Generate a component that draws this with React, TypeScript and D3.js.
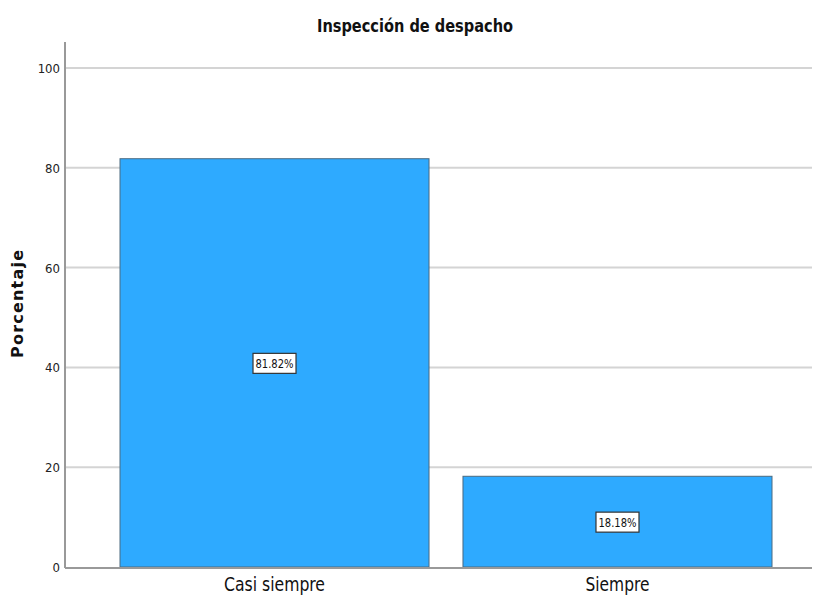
import React from "react";
import * as d3 from "d3";

const categories = ["Casi siempre", "Siempre"];
const values = [81.82, 18.18];
const valueLabels = ["81.82%", "18.18%"];
const yTicks = [0, 20, 40, 60, 80, 100];
const title = "Inspección de despacho";
const yTitle = "Porcentaje";

const W = 815;
const H = 598;
const FONT = "'DejaVu Sans Condensed', 'Liberation Sans Narrow', sans-serif";

export default function App() {
  const axisX = 65;
  const rightX = 812;
  const y = d3.scaleLinear().domain([0, 100]).range([567, 68]);
  const x = d3.scaleBand<string>().domain(categories).range([120, 772]).paddingInner(0.099).paddingOuter(0);

  return (
    <svg width={W} height={H} style={{ position: "absolute", left: 0, top: 0, background: "#fff" }}>
      <rect width={W} height={H} fill="#fff" />
      <text x={415} y={32} textAnchor="middle" fontFamily={FONT} fontWeight="bold" fontSize={17} fill="#111"
        textLength={196} lengthAdjust="spacingAndGlyphs">
        {title}
      </text>
      {yTicks.map((t) => (
        <g key={t}>
          {t > 0 && <line x1={axisX} x2={rightX} y1={y(t)} y2={y(t)} stroke="#d4d4d4" strokeWidth={2} />}
          <text x={60} y={y(t) + 5} textAnchor="end" fontFamily={FONT} fontSize={13} fill="#222">
            {t}
          </text>
        </g>
      ))}
      <line x1={axisX} x2={axisX} y1={42} y2={568} stroke="#999" strokeWidth={2} />
      {categories.map((c, i) => {
        const bx = x(c) as number;
        const bw = x.bandwidth();
        const top = y(values[i]);
        const bottom = y(0);
        const cx = bx + bw / 2;
        const cy = (top + bottom) / 2;
        return (
          <g key={c}>
            <rect x={bx} y={top} width={bw} height={bottom - top} fill="#2EAAFF" stroke="#4a6a80" strokeWidth={1} />
            <rect x={cx - 21.5} y={cy - 9.5} width={43} height={20} fill="#fff" stroke="#333" strokeWidth={1.2} />
            <text x={cx} y={cy + 5} textAnchor="middle" fontFamily={FONT} fontSize={13} fill="#111"
              textLength={38} lengthAdjust="spacingAndGlyphs">
              {valueLabels[i]}
            </text>
            <text x={cx} y={591} textAnchor="middle" fontFamily={FONT} fontSize={19} fill="#111"
              textLength={i === 0 ? 101 : 64} lengthAdjust="spacingAndGlyphs">
              {c}
            </text>
          </g>
        );
      })}
      <line x1={axisX} x2={rightX} y1={568} y2={568} stroke="#999" strokeWidth={2} />
      <text
        transform={`translate(23, 304) rotate(-90)`}
        textAnchor="middle"
        fontFamily="'DejaVu Sans', sans-serif"
        fontWeight="bold"
        fontSize={16}
        textLength={108}
        lengthAdjust="spacing"
        fill="#111"
      >
        {yTitle}
      </text>
    </svg>
  );
}
